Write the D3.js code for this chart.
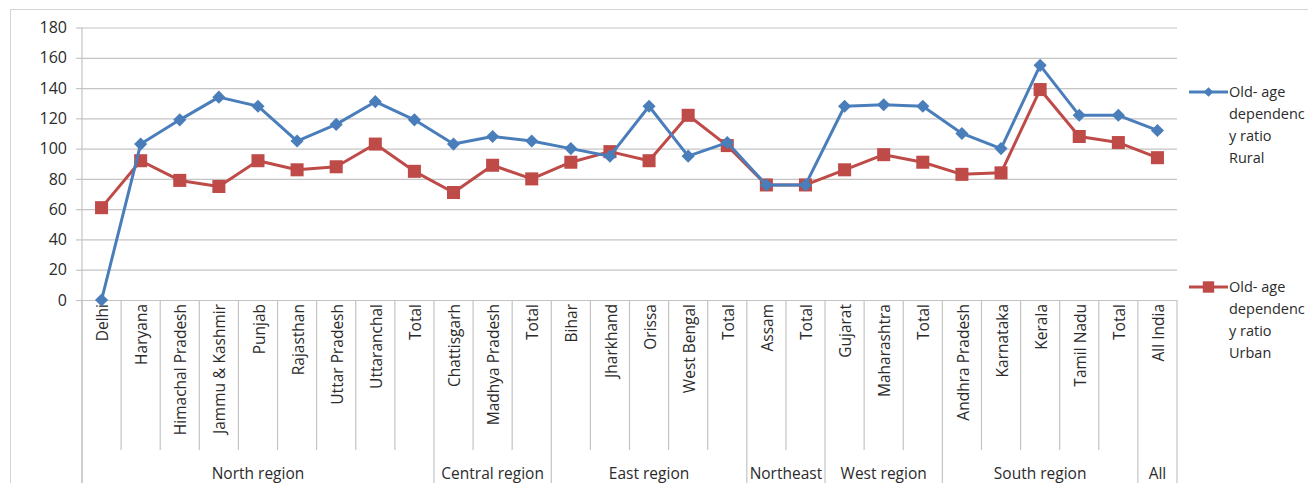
<!DOCTYPE html>
<html>
<head>
<meta charset="utf-8">
<script src="https://cdn.jsdelivr.net/npm/d3@7"></script>
<style>
  html, body { margin: 0; padding: 0; background: #fff; overflow: hidden; }
  svg { display: block; font-family: "Open Sans", "DejaVu Sans", sans-serif; }
</style>
</head>
<body>
<svg id="chart" width="1308" height="483"></svg>
<script>
// States and regional totals along the horizontal axis
const categories = [
  "Delhi", "Haryana", "Himachal Pradesh", "Jammu & Kashmir", "Punjab", "Rajasthan",
  "Uttar Pradesh", "Uttaranchal", "Total",
  "Chattisgarh", "Madhya Pradesh", "Total",
  "Bihar", "Jharkhand", "Orissa", "West Bengal", "Total",
  "Assam", "Total",
  "Gujarat", "Maharashtra", "Total",
  "Andhra Pradesh", "Karnataka", "Kerala", "Tamil Nadu", "Total",
  "All India"
];
const regionNames = ["North region", "Central region", "East region", "Northeast", "West region", "South region", "All"];
const regionSizes = [9, 3, 5, 2, 3, 5, 1];

// Old-age dependency ratio
const ruralValues = [0, 103, 119, 134, 128, 105, 116, 131, 119,
                     103, 108, 105,
                     100, 95, 128, 95, 104,
                     76, 76,
                     128, 129, 128,
                     110, 100, 155, 122, 122,
                     112];
const urbanValues = [61, 92, 79, 75, 92, 86, 88, 103, 85,
                     71, 89, 80,
                     91, 98, 92, 122, 102,
                     76, 76,
                     86, 96, 91,
                     83, 84, 139, 108, 104,
                     94];
const yTicks = [0, 20, 40, 60, 80, 100, 120, 140, 160, 180];
const seriesNames = [["Old- age", "dependenc", "y ratio", "Rural"],
                     ["Old- age", "dependenc", "y ratio", "Urban"]];

const svg = d3.select("#chart");
const plotLeft = 82, plotRight = 1177, plotTop = 27.5, plotBottom = 300;
const textColor = "#2b2b2b";
const gridColor = "#c4c4c4";
const ruralColor = "#4a7ebb";
const urbanColor = "#be4b48";

// outer chart frame (continues past the visible edges)
svg.append("rect")
  .attr("x", 10.5).attr("y", 9.5)
  .attr("width", 1400).attr("height", 600)
  .attr("fill", "none").attr("stroke", "#d4d4d4").attr("stroke-width", 1);

const x = d3.scaleBand().domain(d3.range(categories.length)).range([plotLeft, plotRight]).padding(0);
const y = d3.scaleLinear().domain([0, 180]).range([plotBottom, plotTop]);

// horizontal gridlines
svg.append("g")
  .attr("transform", `translate(${plotLeft},0)`)
  .call(d3.axisLeft(y).tickValues(yTicks).tickSize(-(plotRight - plotLeft)).tickFormat(""))
  .call(g => g.select(".domain").remove())
  .call(g => g.selectAll("line").attr("stroke", gridColor).attr("stroke-width", 1.2));

// y axis with tick labels
svg.append("g")
  .attr("transform", `translate(${plotLeft},0)`)
  .call(d3.axisLeft(y).tickValues(yTicks).tickSize(6).tickPadding(9))
  .call(g => g.select(".domain").attr("d", `M0,${plotTop}V483`).attr("stroke", gridColor).attr("stroke-width", 1.2))
  .call(g => g.selectAll("line").attr("stroke", gridColor).attr("stroke-width", 1.2))
  .call(g => g.selectAll("text").attr("fill", textColor).style("font-size", "16px")
                .style("font-family", "'Open Sans', sans-serif"));

// category separators: short within regions, long at region boundaries
const boundaries = [0];
regionSizes.forEach(n => boundaries.push(boundaries[boundaries.length - 1] + n));
const sepGroup = svg.append("g");
d3.range(categories.length + 1).forEach(k => {
  const xPos = k < categories.length ? x(k) : plotRight;
  const isBoundary = boundaries.includes(k);
  sepGroup.append("line")
    .attr("x1", xPos).attr("x2", xPos)
    .attr("y1", plotBottom).attr("y2", isBoundary ? 483 : 450)
    .attr("stroke", gridColor).attr("stroke-width", 1.2);
});

// category labels, rotated
svg.append("g").selectAll("text")
  .data(categories)
  .join("text")
  .attr("transform", (d, i) => `translate(${x(i) + x.bandwidth() / 2 + 1},304) rotate(-90)`)
  .attr("text-anchor", "end")
  .attr("dy", "0.36em")
  .attr("fill", textColor)
  .style("font-size", "15.5px")
  .text(d => d);

// region labels
svg.append("g").selectAll("text")
  .data(regionNames)
  .join("text")
  .attr("x", (d, i) => {
    const a = x(boundaries[i]);
    const b = boundaries[i + 1] < categories.length ? x(boundaries[i + 1]) : plotRight;
    return (a + b) / 2;
  })
  .attr("y", 479)
  .attr("text-anchor", "middle")
  .attr("fill", textColor)
  .style("font-size", "15.5px")
  .text(d => d);

const cx = i => x(i) + x.bandwidth() / 2;
const line = d3.line().x((d, i) => cx(i)).y(d => y(d));

const diamond = d3.symbol().type(d3.symbolDiamond2).size(110);
const square = d3.symbol().type(d3.symbolSquare).size(170);

// urban series
svg.append("path").datum(urbanValues)
  .attr("d", line).attr("fill", "none")
  .attr("stroke", urbanColor).attr("stroke-width", 3).attr("stroke-linejoin", "round");
svg.append("g").selectAll("path")
  .data(urbanValues).join("path")
  .attr("transform", (d, i) => `translate(${cx(i)},${y(d)})`)
  .attr("d", square).attr("fill", urbanColor);

// rural series
svg.append("path").datum(ruralValues)
  .attr("d", line).attr("fill", "none")
  .attr("stroke", ruralColor).attr("stroke-width", 3).attr("stroke-linejoin", "round");
svg.append("g").selectAll("path")
  .data(ruralValues).join("path")
  .attr("transform", (d, i) => `translate(${cx(i)},${y(d)})`)
  .attr("d", diamond).attr("fill", ruralColor);

// legend
const legendItems = [
  { color: ruralColor, symbol: d3.symbol().type(d3.symbolDiamond2).size(60), y: 92, lines: seriesNames[0] },
  { color: urbanColor, symbol: d3.symbol().type(d3.symbolSquare).size(130), y: 287, lines: seriesNames[1] }
];
legendItems.forEach(item => {
  const g = svg.append("g");
  g.append("line").attr("x1", 1189).attr("x2", 1228).attr("y1", item.y).attr("y2", item.y)
    .attr("stroke", item.color).attr("stroke-width", 3);
  g.append("path").attr("transform", `translate(1208.5,${item.y})`).attr("d", item.symbol).attr("fill", item.color);
  g.append("text").attr("x", 1229).attr("y", item.y).attr("fill", textColor)
    .style("font-size", "14.5px")
    .selectAll("tspan").data(item.lines).join("tspan")
    .attr("x", 1229).attr("dy", (d, i) => i === 0 ? "0.35em" : "22px")
    .text(d => d);
});
</script>
</body>
</html>
